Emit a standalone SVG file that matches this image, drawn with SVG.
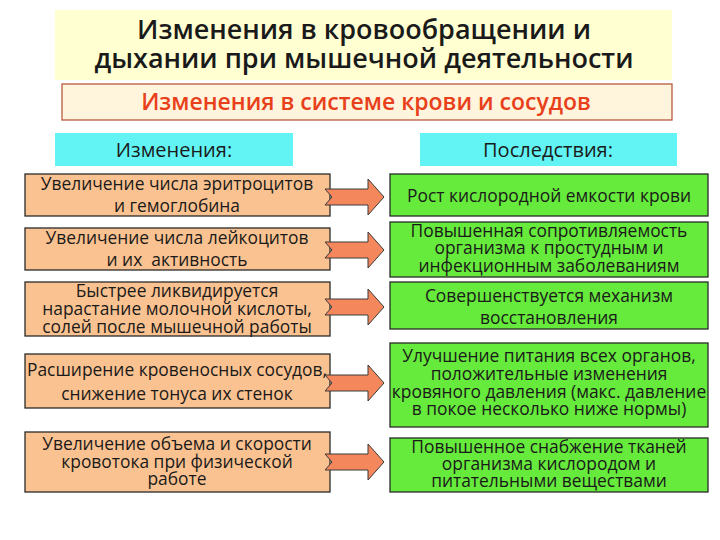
<svg xmlns="http://www.w3.org/2000/svg" width="720" height="540" viewBox="0 0 720 540">
<style>
text{font-family:"Open Sans","Noto Sans","DejaVu Sans",sans-serif;fill:#1a1a1a;text-anchor:middle}
.title{font-size:27px;font-weight:600}
.sub{font-size:23px;font-weight:600;fill:#E8401A}
.hdr{font-size:20px}
.t{font-size:17.4px}
.cause{fill:#FAC290;stroke:#2a2a2a;stroke-width:1.3}
.eff{fill:#66EA3C;stroke:#2a2a2a;stroke-width:1.3}
.cyan{fill:#62F4F4}
.arrow{fill:#F4875C;stroke:#3a3a3a;stroke-width:1}
</style>
<rect width="720" height="540" fill="#ffffff"/>
<g id="title">
<rect x="55" y="10" width="617" height="70" fill="#FFFFD2"/>
<text class="title" x="364" y="39">Изменения в кровообращении и</text>
<text class="title" x="364" y="68">дыхании при мышечной деятельности</text>
</g>
<g id="subtitle">
<rect x="62" y="84" width="610" height="36" fill="#FFF4DC" stroke="#B85A40" stroke-width="1.3"/>
<text class="sub" x="366" y="110">Изменения в системе крови и сосудов</text>
</g>
<g id="hdr-changes">
<rect class="cyan" x="55" y="133" width="238" height="33"/>
<text class="hdr" x="174" y="157">Изменения:</text>
</g>
<g id="hdr-effects">
<rect class="cyan" x="420" y="133" width="257" height="33"/>
<text class="hdr" x="548" y="157">Последствия:</text>
</g>
<g id="c1">
<rect class="cause" x="25" y="174" width="305" height="42"/>
<text class="t" x="177" y="190">Увеличение числа эритроцитов</text>
<text class="t" x="177" y="212">и гемоглобина</text>
</g>
<g id="c2">
<rect class="cause" x="25" y="228" width="305" height="42"/>
<text class="t" x="177" y="244">Увеличение числа лейкоцитов</text>
<text class="t" x="177" y="266" xml:space="preserve">и их  активность</text>
</g>
<g id="c3">
<rect class="cause" x="25" y="282" width="305" height="54"/>
<text class="t" x="177" y="297">Быстрее ликвидируется</text>
<text class="t" x="177" y="315">нарастание молочной кислоты,</text>
<text class="t" x="177" y="333">солей после мышечной работы</text>
</g>
<g id="c4">
<rect class="cause" x="25" y="354" width="305" height="54"/>
<text class="t" x="177" y="376">Расширение кровеносных сосудов,</text>
<text class="t" x="177" y="400">снижение тонуса их стенок</text>
</g>
<g id="c5">
<rect class="cause" x="25" y="432" width="305" height="60"/>
<text class="t" x="177" y="450">Увеличение объема и скорости</text>
<text class="t" x="177" y="468">кровотока при физической</text>
<text class="t" x="177" y="485">работе</text>
</g>
<g id="e1">
<rect class="eff" x="390" y="174" width="318" height="42"/>
<text class="t" x="549" y="202">Рост кислородной емкости крови</text>
</g>
<g id="e2">
<rect class="eff" x="390" y="222" width="318" height="55"/>
<text class="t" x="549" y="237">Повышенная сопротивляемость</text>
<text class="t" x="549" y="254">организма к простудным и</text>
<text class="t" x="549" y="272">инфекционным заболеваниям</text>
</g>
<g id="e3">
<rect class="eff" x="390" y="282" width="318" height="47"/>
<text class="t" x="549" y="302">Совершенствуется механизм</text>
<text class="t" x="549" y="324">восстановления</text>
</g>
<g id="e4">
<rect class="eff" x="390" y="343" width="318" height="84"/>
<text class="t" x="549" y="362">Улучшение питания всех органов,</text>
<text class="t" x="549" y="380">положительные изменения</text>
<text class="t" x="549" y="398">кровяного давления (макс. давление</text>
<text class="t" x="549" y="415">в покое несколько ниже нормы)</text>
</g>
<g id="e5">
<rect class="eff" x="390" y="438" width="318" height="54"/>
<text class="t" x="549" y="453">Повышенное снабжение тканей</text>
<text class="t" x="549" y="470">организма кислородом и</text>
<text class="t" x="549" y="487">питательными веществами</text>
</g>
<g id="connectors">
<path class="arrow" d="M325,189 L368,189 L368,179 L384,197 L368,215 L368,205 L325,205 L332,197 Z"/>
<path class="arrow" d="M325,242 L368,242 L368,232 L384,250 L368,268 L368,258 L325,258 L332,250 Z"/>
<path class="arrow" d="M325,299 L368,299 L368,289 L384,307 L368,325 L368,315 L325,315 L332,307 Z"/>
<path class="arrow" d="M325,375 L368,375 L368,365 L384,383 L368,401 L368,391 L325,391 L332,383 Z"/>
<path class="arrow" d="M325,454 L368,454 L368,444 L384,462 L368,480 L368,470 L325,470 L332,462 Z"/>
</g>
</svg>
